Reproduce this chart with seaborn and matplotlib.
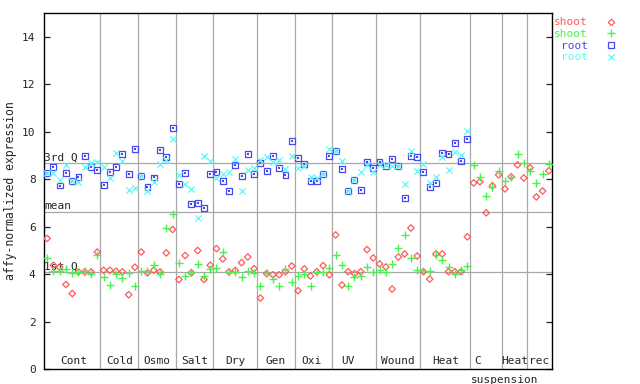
import matplotlib
matplotlib.use("Agg")
import matplotlib.pyplot as plt
from matplotlib.lines import Line2D
import numpy as np
import pandas as pd
import seaborn as sns

# experiment groups along the x axis (number of samples in each)
groups = ["Cont", "Cold", "Osmo", "Salt", "Dry", "Gen", "Oxi", "UV", "Wound", "Heat", "C", "Heat", "rec"]
group_sizes = [9, 6, 6, 6, 7, 6, 6, 7, 7, 8, 5, 4, 4]

shoot_red = [5.50, 4.37, 4.29, 3.56, 3.18, 4.09, 4.09, 4.09, 4.93,
             4.16, 4.16, 4.12, 4.09, 3.13, 4.29,
             4.93, 4.05, 4.16, 4.09, 4.89, 5.88,
             3.77, 4.78, 4.05, 4.99, 3.77, 4.37,
             5.07, 4.64, 4.09, 4.15, 4.48, 4.72, 4.23,
             2.99, 4.02, 3.97, 3.97, 4.10, 4.34,
             3.30, 4.22, 3.92, 4.10, 4.36, 3.97,
             5.65, 3.54, 4.10, 4.02, 4.10, 5.03, 4.68,
             4.43, 4.30, 3.37, 4.72, 4.85, 5.94, 4.76,
             4.10, 3.79, 4.85, 4.85, 4.10, 4.10, 4.10, 5.57,
             7.84, 7.89, 6.58, 7.72, 8.18,
             7.59, 8.10, 8.60, 8.05,
             8.48, 7.25, 7.50, 8.35]

shoot_green = [4.68, 4.15, 4.15, 4.23, 4.05, 4.09, 4.15, 4.00, 4.82,
               3.88, 3.56, 4.02, 3.84, 4.05, 3.51,
               4.15, 4.12, 4.40, 4.00, 5.95, 6.55,
               4.47, 3.90, 4.09, 4.43, 3.93, 4.20,
               4.27, 4.95, 4.10, 4.10, 3.88, 4.15, 4.06,
               3.50, 4.06, 3.81, 3.50, 4.23, 3.68,
               3.92, 4.00, 3.50, 4.10, 4.10, 4.26,
               4.82, 4.38, 3.50, 3.88, 3.92, 4.30, 4.10,
               4.17, 4.10, 4.43, 5.10, 5.65, 4.68, 4.17,
               4.13, 4.13, 4.82, 4.60, 4.30, 4.02, 4.17, 4.34,
               8.60, 8.10, 7.29, 7.67, 8.35,
               7.93, 8.10, 9.07, 8.69,
               8.35, 7.84, 8.22, 8.64]

root_blue = [8.26, 8.52, 7.73, 8.26, 7.93, 8.10, 8.98, 8.52, 8.39,
             7.76, 8.31, 8.52, 9.07, 8.22, 9.28,
             8.12, 7.66, 8.07, 9.23, 8.94, 10.16,
             7.80, 8.26, 6.96, 7.00, 6.79, 8.22,
             8.31, 7.93, 7.50, 8.60, 8.14, 9.07, 8.22,
             8.69, 8.35, 8.98, 8.48, 8.18, 9.61,
             8.90, 8.64, 7.93, 7.93, 8.22, 8.98,
             9.19, 8.43, 7.49, 7.97, 7.55, 8.73, 8.48,
             8.73, 8.56, 8.85, 8.56, 7.21, 8.98, 8.94,
             8.31, 7.67, 7.84, 9.11, 9.07, 9.53, 8.77, 9.70]

root_cyan = [8.25, 8.27, 7.98, 8.59, 7.93, 7.89, 8.50, 8.69, 8.73,
             8.50, 8.03, 9.11, 8.76, 7.55, 7.63,
             8.12, 7.49, 7.89, 8.65, 8.80, 9.67,
             8.18, 7.81, 7.59, 6.37, 8.99, 8.77,
             8.05, 8.22, 8.31, 8.85, 7.50, 8.39, 8.48,
             8.81, 8.94, 8.73, 8.81, 8.43, 8.98,
             8.48, 8.56, 8.10, 8.05, 8.22, 9.28,
             9.19, 8.77, 7.49, 7.97, 8.31, 8.60, 8.31,
             8.60, 8.60, 8.56, 8.56, 7.80, 9.19, 8.35,
             8.64, 7.84, 8.10, 8.94, 8.39, 9.15, 9.02, 10.04]

stat_values = [8.69, 6.62, 4.09]
stat_names = ["3rd Q", "mean", "1st Q"]

sns.set_style("white")
plt.rcParams["font.family"] = ["DejaVu Sans Mono"]
plt.rcParams["font.size"] = 8

RED = "#ff5a5a"
GREEN = "#4cf04c"
BLUE = "#4848f0"
CYAN = "#5cf8f8"
GRID = "#a8a8a8"

fig = plt.figure(figsize=(6.4, 3.84), dpi=100)
ax = fig.add_axes([44 / 640, 1 - 369 / 384, 508 / 640, 356 / 384])


def frame(values):
    return pd.DataFrame({"pos": np.arange(len(values)) + 0.5, "value": values})


n_total = sum(group_sizes)
bounds = np.cumsum(group_sizes)

# group separators and summary lines
for b in bounds[:-1]:
    ax.axvline(b, color=GRID, lw=0.9, zorder=1)
for v, name in zip(stat_values, stat_names):
    ax.axhline(v, color=GRID, lw=0.9, zorder=1)
    ax.text(0.05, v + 0.02, name, ha="left", va="bottom", fontsize=8, zorder=2)

sns.scatterplot(data=frame(shoot_red), x="pos", y="value", ax=ax, marker="D",
                s=11, facecolor="none", edgecolor=RED, linewidth=0.9, zorder=3)
sns.scatterplot(data=frame(shoot_green), x="pos", y="value", ax=ax, marker="+",
                s=30, color=GREEN, linewidth=1.0, zorder=4)
sns.scatterplot(data=frame(root_blue), x="pos", y="value", ax=ax, marker="s",
                s=18, facecolor="none", edgecolor=BLUE, linewidth=0.9, zorder=5)
sns.scatterplot(data=frame(root_blue), x="pos", y="value", ax=ax, marker="s",
                s=0.6, color=BLUE, linewidth=0, zorder=5)
sns.scatterplot(data=frame(root_cyan), x="pos", y="value", ax=ax, marker="x",
                s=20, color=CYAN, linewidth=0.9, zorder=6)

ax.set_xlim(0, n_total)
ax.set_ylim(0, 15)
ax.set_xticks([])
ax.set_yticks(range(0, 15, 2))
ax.tick_params(axis="y", direction="in", length=4.5, width=0.9,
               left=True, right=True, labelsize=8, pad=6)
ax.set_xlabel("")
ax.set_ylabel("affy-normalized expression", fontsize=8.3, labelpad=4)
for sp in ax.spines.values():
    sp.set_color("black")
    sp.set_linewidth(1.0)

# group names sitting inside the plot, just above the x axis
starts = np.concatenate([[0], bounds[:-1]])
label_pos = [(s + e) / 2 for s, e in zip(starts, bounds)]
label_pos[0] += 0.3
label_pos[6] -= 0.4
label_pos[7] -= 1.0
label_pos[10] -= 1.3
for name, x in zip(groups, label_pos):
    ax.text(x, 0.12, name, ha="center", va="bottom", fontsize=8)
ax.text(73.4, -0.25, "suspension", ha="center", va="top", fontsize=8, clip_on=False)

handles = [
    Line2D([], [], ls="none", marker="D", ms=3.3, mfc="none", mec=RED, mew=0.9),
    Line2D([], [], ls="none", marker="+", ms=5.5, color=GREEN, mew=1.0),
    Line2D([], [], ls="none", marker="s", ms=4.2, mfc="none", mec=BLUE, mew=0.9),
    Line2D([], [], ls="none", marker="x", ms=4.5, color=CYAN, mew=0.9),
]
ax.legend(handles, ["shoot", "shoot", "root", "root"], markerfirst=False,
          loc="upper left", bbox_to_anchor=(0.995, 1.0), frameon=False,
          labelcolor=[RED, GREEN, BLUE, CYAN], fontsize=8, handlelength=1.0,
          handletextpad=1.6, labelspacing=0.15, borderaxespad=0)

fig.savefig("out.png", dpi=100)
